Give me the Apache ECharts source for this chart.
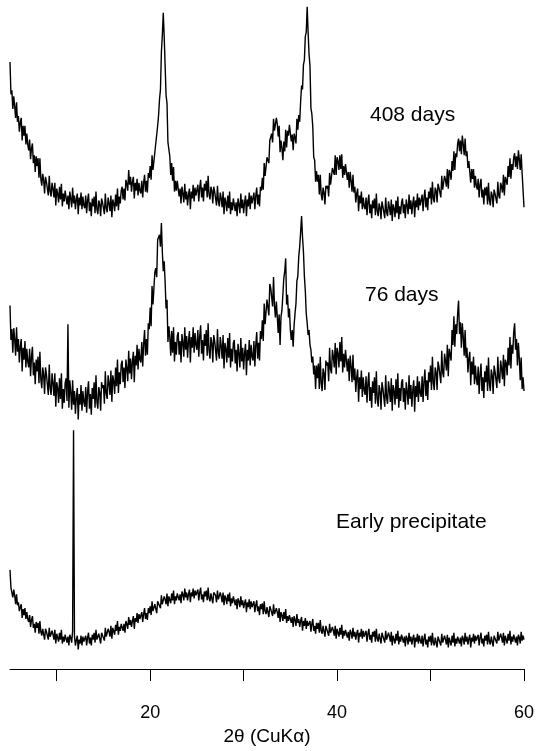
<!DOCTYPE html>
<html>
<head>
<meta charset="utf-8">
<script src="https://cdn.jsdelivr.net/npm/echarts@6/dist/echarts.min.js"></script>
<style>
html,body{margin:0;padding:0;background:#fff;}
#chart{width:537px;height:751px;}
</style>
</head>
<body>
<div id="chart"></div>
<script>
// 2-theta sampling grid (degrees)
var xStart = 5.0;
var xStep = 0.1;

// Tick positions / labels
var tickValues = [10, 20, 30, 40, 50, 60];
var labelValues = [20, 40, 60];

// Annotations
var labelNames = ["408 days", "76 days", "Early precipitate"];

// Intensities (stacked, arbitrary units), 5.0..60.0 step 0.1
var days408 = [
618,585,589,570,583,573,561,577,557,563,547,556,561,538,553,543,553,534,545,534,
528,539,519,530,535,515,523,506,522,512,520,500,520,499,492,504,498,484,501,496,
496,482,502,486,481,495,489,480,495,472,489,484,475,491,478,494,471,484,476,487,
489,473,482,468,486,479,470,490,474,482,468,478,484,463,480,472,485,468,481,472,
469,482,464,477,484,466,475,461,479,471,481,464,486,468,463,477,473,461,479,475,
476,463,484,469,465,480,474,466,482,460,478,474,466,483,471,489,467,481,474,487,
491,478,489,477,498,494,487,508,493,501,486,496,501,479,495,487,499,482,495,487,
484,497,480,495,503,486,497,485,505,500,512,498,523,508,507,526,527,525,553,564,
580,590,628,645,668,644,614,584,576,536,536,522,503,515,497,511,486,497,487,497,
498,481,489,474,491,484,475,494,478,486,472,483,489,468,486,479,493,476,490,482,
480,493,476,490,498,480,490,476,494,487,497,480,502,483,478,491,487,474,491,486,
486,472,492,476,471,485,479,470,486,463,480,475,466,482,469,486,463,475,467,479,
481,466,475,461,479,473,464,484,469,478,464,475,482,461,478,471,485,468,482,474,
472,485,468,482,490,473,483,471,491,487,500,488,515,502,502,521,522,515,538,539,
545,536,560,548,546,561,555,542,553,526,538,530,518,537,527,549,531,548,543,554,
555,537,544,528,545,541,535,560,549,564,557,578,594,590,615,620,644,648,674,648,
626,614,571,565,552,521,518,496,507,496,503,483,503,483,477,490,485,473,492,489,
492,481,505,493,492,510,508,503,523,503,521,517,508,523,509,524,500,512,503,514,
515,498,506,490,506,497,486,503,485,491,475,484,489,466,482,474,486,468,480,471,
468,480,462,476,483,464,473,459,477,469,479,462,484,466,461,474,470,458,476,471,
472,459,480,465,461,476,470,462,478,456,473,469,460,477,464,481,458,471,463,475,
479,464,473,459,478,472,463,483,468,477,463,474,481,460,477,470,484,467,480,472,
470,483,466,480,488,470,480,467,486,479,490,473,496,479,475,490,487,475,494,490,
492,480,502,488,486,502,498,491,509,489,508,505,498,517,507,527,508,525,521,535,
540,527,538,524,543,534,523,540,522,527,510,517,519,495,509,499,509,490,502,492,
488,499,480,493,499,480,488,473,490,482,491,473,495,477,472,486,482,470,488,484,
486,474,496,482,479,495,491,485,503,482,501,499,493,512,501,520,499,514,508,521,
525,511,522,509,528,519,508,524,505,505,470
];

var days76 = [
370,335,346,322,347,336,319,348,323,336,312,328,336,303,327,315,334,307,326,313,
307,326,298,318,328,299,312,290,315,303,318,291,323,295,286,307,300,280,307,300,
300,279,310,286,279,301,291,278,301,267,292,286,271,296,275,301,265,285,271,291,
296,273,351,266,294,282,264,294,269,283,260,277,286,254,280,269,289,263,283,272,
267,287,261,282,293,265,280,259,286,275,292,266,299,272,265,287,282,263,292,286,
289,270,303,280,275,299,291,279,304,272,299,293,280,307,288,315,281,302,290,310,
314,292,307,286,315,306,293,324,301,316,295,313,323,292,319,309,330,305,326,315,
312,333,308,331,345,319,336,320,352,346,368,349,390,371,372,404,408,399,437,436,
442,430,454,425,405,415,394,367,376,333,349,338,319,344,322,348,313,333,320,339,
343,320,334,312,341,332,318,348,325,339,317,334,344,312,338,327,348,322,342,330,
325,345,318,339,350,321,335,314,341,329,345,319,352,324,316,338,332,312,340,334,
335,314,346,322,316,338,329,316,340,306,332,326,312,337,317,342,307,326,313,332,
335,311,325,303,331,321,307,337,313,327,305,322,331,299,325,314,335,309,330,318,
314,334,308,330,343,316,332,314,344,336,355,334,372,351,349,376,375,360,392,388,
390,369,399,370,358,374,359,342,361,330,359,365,364,398,405,418,371,381,358,367,
345,335,345,328,350,362,372,395,400,420,430,445,461,440,425,400,385,362,352,340,
345,330,325,312,318,300,309,285,309,296,311,285,318,291,283,306,301,284,314,309,
312,293,327,305,301,325,318,307,332,300,327,321,307,333,313,338,302,321,307,325,
327,303,316,293,319,308,292,320,294,306,282,297,305,272,297,285,304,277,297,284,
279,298,271,291,302,273,287,266,293,281,297,270,303,275,267,289,283,264,292,286,
287,267,299,276,270,293,284,272,296,263,289,283,269,295,275,301,266,286,273,292,
295,272,286,264,292,283,269,299,275,289,267,284,294,262,288,277,298,272,293,281,
277,298,272,293,305,278,294,274,302,292,309,284,318,291,284,307,302,284,313,308,
310,291,324,302,297,321,314,304,330,298,326,324,314,345,330,359,328,351,341,362,
375,341,353,327,352,338,319,345,317,327,302,316,323,289,313,300,318,290,309,295,
289,308,280,300,311,283,297,276,303,292,309,283,317,290,283,305,299,280,309,303,
305,286,318,296,291,314,306,295,320,288,315,311,299,327,309,338,306,330,321,343,
352,325,336,309,332,316,294,317,285,297,283
];

var early = [
101,83,85,73,81,75,66,76,65,68,59,63,66,52,61,55,62,51,58,51,
48,55,43,50,54,42,46,37,48,42,47,36,49,38,34,41,39,30,41,38,
38,30,42,33,31,39,35,30,40,26,36,34,28,37,30,40,26,33,28,35,
36,27,33,24,35,32,27,39,243,33,24,30,34,20,30,26,34,24,33,28,
26,34,24,32,37,26,32,24,35,30,37,27,40,30,28,36,34,26,37,36,
36,29,42,33,32,41,38,33,44,31,42,40,35,45,39,49,35,43,39,46,
48,39,46,37,49,46,41,53,45,50,43,49,54,41,52,48,57,47,56,51,
50,58,48,56,62,51,57,50,62,57,64,55,69,59,57,66,65,57,69,68,
69,62,75,66,65,74,71,66,77,64,74,72,67,77,70,80,66,74,70,77,
79,70,76,67,79,76,70,82,73,78,70,76,81,68,78,74,82,72,80,75,
73,81,70,78,83,71,76,68,79,74,80,70,83,72,69,77,75,67,78,76,
75,68,80,71,69,78,74,68,78,65,75,72,66,76,69,78,64,72,67,74,
74,65,71,61,72,69,63,74,65,70,62,67,71,58,68,63,71,61,69,63,
61,69,58,65,70,59,64,55,66,61,67,56,69,59,56,63,61,53,64,61,
61,54,66,56,54,62,58,52,62,48,58,55,49,58,51,61,47,54,49,55,
56,47,53,43,54,50,44,56,47,51,43,49,53,39,49,44,52,41,49,44,
42,49,38,46,51,39,44,36,47,41,47,37,50,39,36,44,42,33,44,42,
42,34,46,37,35,43,39,34,44,31,41,39,33,42,35,45,31,39,34,40,
41,32,38,29,40,37,31,42,33,38,30,36,40,27,37,33,41,31,39,33,
31,39,28,36,41,30,35,27,38,33,39,28,41,31,28,36,34,26,37,35,
35,27,39,30,28,37,33,28,38,24,34,32,26,36,29,39,25,33,28,35,
36,27,33,23,34,31,25,37,28,33,25,31,35,22,32,28,36,26,34,29,
26,34,23,31,36,25,30,22,33,28,34,24,37,27,24,32,30,22,33,31,
31,24,36,27,25,34,30,25,35,22,32,30,24,34,27,37,23,31,26,33,
35,26,32,23,34,31,25,37,28,33,25,31,35,22,32,28,36,26,34,29,
27,35,24,32,37,26,31,23,34,29,35,25,38,28,25,33,31,23,34,32,
33,26,38,29,27,36,32,27,37,24,34,32,26,36,29,39,25,33,28,35,
36,27,33,24,35,32,26,38,29,34,30
];

function pairs(arr) {
  return arr.map(function (v, i) { return [+(xStart + i * xStep).toFixed(2), v]; });
}

var chart = echarts.init(document.getElementById('chart'), null, {renderer: 'canvas'});
var font = '"Liberation Sans", Arial, sans-serif';
var lineSeries = function (name, arr) {
  return {
    name: name, type: 'line', data: pairs(arr), showSymbol: false, symbol: 'none',
    sampling: null, animation: false, lineStyle: {color: '#000', width: 1.4}, silent: true
  };
};
chart.setOption({
  animation: false,
  backgroundColor: '#fff',
  grid: {left: 10, right: 13, top: 0, bottom: 70, containLabel: false},
  xAxis: {
    type: 'value', min: 5, max: 60,
    name: '2\u03b8 (CuK\u03b1)', nameLocation: 'middle', nameGap: 57,
    nameTextStyle: {fontFamily: font, fontSize: 19, color: '#000'},
    axisLine: {show: true, lineStyle: {color: '#000', width: 1}},
    axisTick: {show: true, length: 12, customValues: tickValues, lineStyle: {color: '#000'}},
    axisLabel: {customValues: labelValues, margin: 35, fontFamily: font, fontSize: 18, color: '#000'},
    splitLine: {show: false}
  },
  yAxis: {type: 'value', min: 0, max: 681, show: false},
  series: [lineSeries(labelNames[0], days408), lineSeries(labelNames[1], days76), lineSeries(labelNames[2], early)],
  graphic: [
    {type: 'text', left: 370, top: 105, style: {text: labelNames[0], font: '21px ' + font, fill: '#000'}},
    {type: 'text', left: 365, top: 285, style: {text: labelNames[1], font: '21px ' + font, fill: '#000'}},
    {type: 'text', left: 336, top: 512, style: {text: labelNames[2], font: '21px ' + font, fill: '#000'}}
  ]
});
</script>
</body>
</html>
